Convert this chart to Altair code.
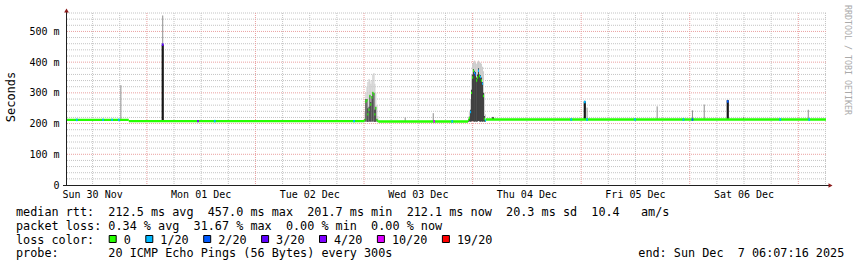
import altair as alt
import pandas as pd

# ---------------- data ----------------
# time axis: hours since Sun 30 Nov 2025 00:00 ; values in ms
T_START, T_END = 6.12, 174.12
Y_MAX = 560

DAY_LABELS = ["Sun 30 Nov", "Mon 01 Dec", "Tue 02 Dec", "Wed 03 Dec",
              "Thu 04 Dec", "Fri 05 Dec", "Sat 06 Dec"]
DAY_LABEL_AT = [12, 36, 60, 84, 108, 132, 156]
MIDNIGHTS = [24, 48, 72, 96, 120, 144, 168]
SIX_HOURS = [12, 18, 30, 36, 42, 54, 60, 66, 78, 84, 90, 102, 108, 114,
             126, 132, 138, 150, 156, 162, 174]
MS_MAJOR = [100, 200, 300, 400, 500]
MS_MINOR = [20, 40, 60, 80, 120, 140, 160, 180, 220, 240, 260, 280, 320, 340,
            360, 380, 420, 440, 460, 480, 520, 540, 560]
Y_TICKS = [0, 100, 200, 300, 400, 500]
Y_TICK_LABELS = ["0  ", "100 m", "200 m", "300 m", "400 m", "500 m"]

LOSS_KEYS = [0, 1, 2, 3, 4, 10, 19]
LOSS_LABELS = ["0", "1/20", "2/20", "3/20", "4/20", "10/20", "19/20"]
LOSS_COLORS = ["#26ff00", "#00b8ff", "#0059ff", "#5e00ff", "#7e00ff", "#dd00ff", "#ff0000"]

# quiet periods: median level
BASE_T0 = [6.12, 20.0, 75.15, 98.95]
BASE_T1 = [20.0, 72.1, 95.0, 174.12]
BASE_MED = [212, 208, 207, 213]

# busy periods (Tue 02 Dec early morning, Wed 03 Dec around midnight)
BUSY_T = [72.2, 72.4, 72.65, 72.85, 73.1, 73.3, 73.5, 73.75, 73.95, 74.2, 74.4, 74.6, 74.85, 75.05,
          95.1, 95.3, 95.55, 95.75, 96.0, 96.2, 96.45, 96.65, 96.9, 97.1, 97.3, 97.55, 97.75, 97.95,
          98.2, 98.4, 98.6, 98.85]
BUSY_LO = [206, 207, 206, 205, 206, 207, 206, 206, 207, 206, 205, 206, 207, 206,
           206, 207, 206, 207, 208, 207, 206, 207, 206, 207, 208, 207, 206, 207,
           206, 207, 206, 207]
BUSY_MED = [212, 272, 276, 230, 245, 290, 262, 285, 300, 295, 230, 250, 212, 208,
            212, 218, 238, 300, 350, 372, 365, 360, 340, 350, 372, 355, 352, 340,
            330, 290, 215, 210]
BUSY_DARK = [215, 280, 280, 250, 255, 292, 270, 290, 302, 300, 245, 255, 215, 210,
             215, 222, 245, 310, 360, 378, 372, 368, 350, 360, 380, 360, 358, 350,
             335, 300, 225, 212]
BUSY_HI = [240, 300, 320, 335, 345, 340, 330, 340, 360, 365, 330, 300, 260, 225,
           222, 240, 280, 360, 395, 400, 405, 398, 395, 400, 405, 400, 398, 395,
           385, 370, 300, 230]
BUSY_LOSS = [0, 0, 0, 0, 0, 0, 0, 0, 0, 0, 0, 0, 0, 0,
             0, 0, 1, 0, 0, 0, 1, 2, 0, 0, 1, 0, 1, 0,
             1, 0, 0, 1]

# isolated spikes
SPIKE_T = [18.25, 27.5, 81.1, 87.3, 100.5, 120.8, 121.3, 136.8, 144.6, 147.2, 152.4, 155.9, 170.2]
SPIKE_LO = [211, 208, 207, 207, 213, 212, 212, 212, 212, 212, 212, 212, 212]
SPIKE_DARK = [211, 457, 207, 207, 220, 272, 212, 212, 212, 212, 276, 212, 212]
SPIKE_HI = [325, 552, 220, 234, 222, 275, 252, 256, 243, 262, 278, 222, 245]

# single samples with packet loss (or elevated median)
SPECK_T = [8.5, 14.3, 16.3, 17.8, 27.5, 35.3, 39.0, 69.8, 87.5, 91.5, 117.8, 120.8,
           121.3, 131.9, 142.6, 144.6, 152.4, 164.0, 170.4]
SPECK_MED = [212, 212, 212, 212, 457, 208, 208, 208, 207, 207, 213, 270,
             213, 213, 213, 213, 272, 213, 213]
SPECK_LOSS = [1, 1, 1, 1, 3, 4, 1, 1, 10, 1, 1, 1, 1, 1, 1, 2, 2, 1, 1]

LEGEND_LINES = [
    "median rtt:  212.5 ms avg  457.0 ms max  201.7 ms min  212.1 ms now  20.3 ms sd  10.4   am/s",
    "packet loss: 0.34 % avg  31.67 % max  0.00 % min  0.00 % now",
    "loss color:",
    "probe:       20 ICMP Echo Pings (56 Bytes) every 300s",
]
END_TEXT = "end: Sun Dec  7 06:07:16 2025"
Y_TITLE = "Seconds"
WATERMARK = "RRDTOOL / TOBI OETIKER"

# ---------------- style / layout ----------------
MONO = "DejaVu Sans Mono"
PL, PT, W, H = 66, 13, 760, 172
CH = 7.1
NB = "\u00a0"
GRID_MINOR = "#c4c4c4"
GRID_MAJOR = "#eaa0a0"
SMOKE_LIGHT = "#cccccc"
SMOKE_GRAY = "#8e8e8e"
SMOKE_DARK = "#181818"
ARROW = "#8b1a1a"
HALF_BAND = 4        # median band half-height (ms)


def nb(s):
    return s.replace(" ", NB)


color_of = dict(zip(LOSS_KEYS, LOSS_COLORS))

xs = alt.Scale(domain=[T_START, T_END], nice=False, zero=False)
ys = alt.Scale(domain=[0, Y_MAX], nice=False)

layers = []

layers.append(alt.Chart(pd.DataFrame({"t": SIX_HOURS})).mark_rule(
    color=GRID_MINOR, strokeDash=[1, 1], strokeWidth=1).encode(
    x=alt.X("t:Q", scale=xs, axis=None)))
layers.append(alt.Chart(pd.DataFrame({"v": MS_MINOR})).mark_rule(
    color=GRID_MINOR, strokeDash=[1, 1], strokeWidth=1).encode(
    y=alt.Y("v:Q", scale=ys, axis=None)))
layers.append(alt.Chart(pd.DataFrame({"t": MIDNIGHTS})).mark_rule(
    color=GRID_MAJOR, strokeDash=[1, 1], strokeWidth=1).encode(
    x=alt.X("t:Q", scale=xs, axis=None)))
layers.append(alt.Chart(pd.DataFrame({"v": MS_MAJOR})).mark_rule(
    color=GRID_MAJOR, strokeDash=[1, 1], strokeWidth=1).encode(
    y=alt.Y("v:Q", scale=ys, axis=None)))

busy = pd.DataFrame({"t": BUSY_T, "lo": BUSY_LO, "med": BUSY_MED, "dark": BUSY_DARK,
                     "hi": BUSY_HI, "color": [color_of[k] for k in BUSY_LOSS]})
spikes = pd.DataFrame({"t": SPIKE_T, "lo": SPIKE_LO, "dark": SPIKE_DARK, "hi": SPIKE_HI})
base = pd.DataFrame({"t0": BASE_T0, "t1": BASE_T1, "med": BASE_MED})
specks = pd.DataFrame({"t": SPECK_T, "med": SPECK_MED,
                       "color": [color_of[k] for k in SPECK_LOSS]})

col = alt.Chart(busy).transform_calculate(t0="datum.t - 0.115", t1="datum.t + 0.115",
                                          d0="datum.t - 0.085", d1="datum.t + 0.085")
layers.append(col.mark_rect(color=SMOKE_LIGHT).encode(
    x=alt.X("t0:Q", scale=xs, axis=None), x2="t1:Q",
    y=alt.Y("lo:Q", scale=ys, axis=None), y2="hi:Q"))
layers.append(alt.Chart(spikes).mark_rule(color=SMOKE_GRAY, strokeWidth=1).encode(
    x=alt.X("t:Q", scale=xs, axis=None), y=alt.Y("lo:Q", scale=ys, axis=None), y2="hi:Q"))
layers.append(col.mark_rect(color=SMOKE_DARK).encode(
    x=alt.X("d0:Q", scale=xs, axis=None), x2="d1:Q",
    y=alt.Y("lo:Q", scale=ys, axis=None), y2="dark:Q"))
layers.append(alt.Chart(spikes).transform_filter("datum.dark > datum.lo").mark_rule(
    color=SMOKE_DARK, strokeWidth=2.2).encode(
    x=alt.X("t:Q", scale=xs, axis=None), y=alt.Y("lo:Q", scale=ys, axis=None), y2="dark:Q"))

layers.append(alt.Chart(base).transform_calculate(
    a=f"datum.med - {HALF_BAND}", b=f"datum.med + {HALF_BAND}").mark_rect(
    color=LOSS_COLORS[0]).encode(
    x=alt.X("t0:Q", scale=xs, axis=None), x2="t1:Q",
    y=alt.Y("a:Q", scale=ys, axis=None), y2="b:Q"))
layers.append(col.transform_calculate(
    a=f"datum.med - {HALF_BAND}", b=f"datum.med + {HALF_BAND}").mark_rect().encode(
    x=alt.X("t0:Q", scale=xs, axis=None), x2="t1:Q",
    y=alt.Y("a:Q", scale=ys, axis=None), y2="b:Q",
    color=alt.Color("color:N", scale=None)))
layers.append(alt.Chart(specks).transform_calculate(
    t0="datum.t - 0.2", t1="datum.t + 0.2",
    a=f"datum.med - {HALF_BAND}", b=f"datum.med + {HALF_BAND}").mark_rect().encode(
    x=alt.X("t0:Q", scale=xs, axis=None), x2="t1:Q",
    y=alt.Y("a:Q", scale=ys, axis=None), y2="b:Q",
    color=alt.Color("color:N", scale=None)))

# axis tick labels (drawn through the scales)
layers.append(alt.Chart(pd.DataFrame({"t": DAY_LABEL_AT, "lab": DAY_LABELS})).mark_text(
    font=MONO, fontSize=10, align="center", baseline="alphabetic", color="#000000").encode(
    x=alt.X("t:Q", scale=xs, axis=None), y=alt.value(198 - PT), text="lab:N"))
layers.append(alt.Chart(pd.DataFrame({"v": Y_TICKS, "lab": [nb(s) for s in Y_TICK_LABELS]})).mark_text(
    font=MONO, fontSize=10, align="right", baseline="alphabetic", dy=3.6, color="#000000").encode(
    y=alt.Y("v:Q", scale=ys, axis=None), x=alt.value(59.5 - PL), text="lab:N"))

one = alt.Data(values=[{"k": 0}])


def deco():
    return alt.Chart(one)


# axis lines and arrows
layers.append(deco().mark_rule(color="#202020", strokeWidth=1).encode(
    x=alt.value(0.5), y=alt.value(-3), y2=alt.value(H)))
layers.append(deco().mark_rule(color="#202020", strokeWidth=1).encode(
    x=alt.value(-3), x2=alt.value(763), y=alt.value(H + 0.5)))
layers.append(deco().mark_point(shape="triangle-up", filled=True, size=22, color=ARROW, opacity=1).encode(
    x=alt.value(0.5), y=alt.value(-2.5)))
layers.append(deco().mark_point(shape="triangle-right", filled=True, size=22, color=ARROW, opacity=1).encode(
    x=alt.value(764.5), y=alt.value(H + 0.5)))

# texts
BASELINES = [215.7, 229.6, 243.5, 257.4]
for line, yb in zip(LEGEND_LINES, BASELINES):
    layers.append(deco().mark_text(text=nb(line), font=MONO, fontSize=11.8, align="left",
                                   baseline="alphabetic", color="#000000").encode(
        x=alt.value(16 - PL), y=alt.value(yb - PT)))
layers.append(deco().mark_text(text=nb(END_TEXT), font=MONO, fontSize=11.8, align="left",
                               baseline="alphabetic", color="#000000").encode(
    x=alt.value(638.3 - PL), y=alt.value(BASELINES[3] - PT)))

bx = 108.7
for lab, c in zip(LOSS_LABELS, LOSS_COLORS):
    layers.append(deco().mark_rect(color=c, stroke="#000000", strokeWidth=1).encode(
        x=alt.value(bx + 0.5 - PL), x2=alt.value(bx + 7.5 - PL),
        y=alt.value(235.5 - PT), y2=alt.value(242.5 - PT)))
    lx = bx + 15
    layers.append(deco().mark_text(text=nb(lab), font=MONO, fontSize=11.8, align="left",
                                   baseline="alphabetic", color="#000000").encode(
        x=alt.value(lx - PL), y=alt.value(BASELINES[2] - PT)))
    bx = lx + len(lab) * CH + 14.5

layers.append(deco().mark_text(text=Y_TITLE, font=MONO, fontSize=12, angle=270, align="center",
                               baseline="middle", color="#000000").encode(
    x=alt.value(11 - PL), y=alt.value(97 - PT)))
layers.append(deco().mark_text(text=nb(WATERMARK), font=MONO, fontSize=8.3, angle=90, align="center",
                               baseline="middle", color="#aaaaaa").encode(
    x=alt.value(846.5 - PL), y=alt.value(60 - PT)))

chart = alt.layer(*layers).properties(
    width=W, height=H,
    padding={"left": PL, "top": PT, "right": 857 - PL - W, "bottom": 267 - PT - H},
    autosize=alt.AutoSizeParams(type="none"),
    background="white",
).configure_view(stroke=None)

chart.save("out.html", embed_options={"renderer": "svg", "actions": False})
